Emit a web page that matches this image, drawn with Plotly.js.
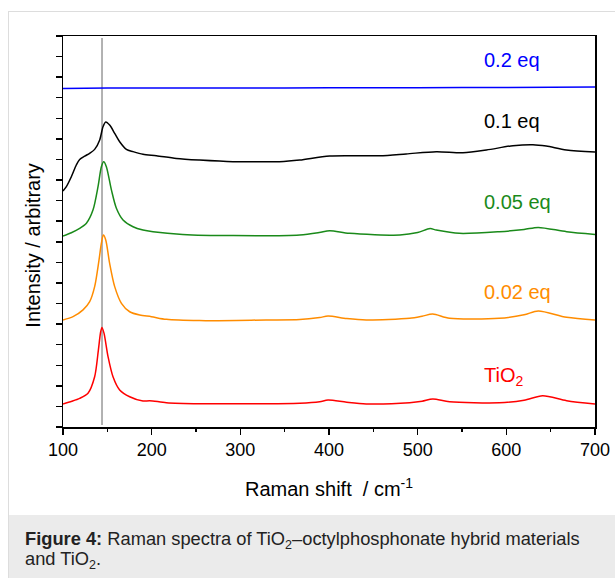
<!DOCTYPE html>
<html>
<head>
<meta charset="utf-8">
<script src="https://cdn.plot.ly/plotly-3.0.1.min.js"></script>
<style>
  html, body { margin: 0; padding: 0; background: #ffffff; width: 615px; height: 578px; overflow: hidden; }
  #frame { position: absolute; left: 8px; top: 11px; width: 700px; height: 700px; border: 1px solid #dddddd; background: #ffffff; }
  #capbox { position: absolute; left: 9px; top: 515px; width: 700px; height: 100px; background: #ebebeb; }
  #caption { position: absolute; left: 25px; top: 529px; width: 572px; font-family: Arial, "Liberation Sans", sans-serif; font-size: 18.3px; line-height: 20px; color: #222222; }
  #caption sub { font-size: 12.5px; line-height: 0; vertical-align: -4px; }
  #chart { position: absolute; left: 0; top: 0; width: 615px; height: 578px; }
</style>
</head>
<body>
<div id="frame"></div>
<div id="capbox"></div>
<div id="caption"><b>Figure 4:</b> Raman spectra of TiO<sub>2</sub>–octylphosphonate hybrid materials and TiO<sub>2</sub>.</div>
<div id="chart"></div>
<script>
// Raman shift (cm-1) and intensity (arbitrary, offset)
const tio2X = [100,110,118.8,128.2,135.7,139.9,142.5,144,146.3,150.8,156.4,163.9,175.2,190.2,197.8,216.6,254,300,367,389.5,398.9,420,442,491,505,517,536,592,620,641,668,700];
const tio2Y = [1.12,1.25,1.39,1.64,2.44,3.74,4.63,4.84,4.55,3.42,2.44,1.8,1.47,1.26,1.28,1.18,1.13,1.13,1.16,1.23,1.31,1.2,1.12,1.18,1.25,1.36,1.23,1.18,1.3,1.52,1.28,1.12];

const eq002X = [100,111.3,122.6,130.1,135.7,140.6,143.3,145.5,148.2,152.6,158.3,165.9,175.2,186.5,199.7,216.6,254,329,367,389.5,398.9,420,442,491,505,517,536,592,620,636,668,700];
const eq002Y = [5.2,5.36,5.69,6.09,6.82,8.11,8.93,9.33,9.09,7.95,6.82,6.01,5.6,5.44,5.36,5.23,5.17,5.2,5.22,5.32,5.39,5.27,5.2,5.28,5.38,5.49,5.28,5.28,5.45,5.64,5.33,5.2];

const eq005X = [100,109.4,118.8,126.4,133.8,139.5,143.3,145.9,148.9,154.6,160.2,167.7,179,190.2,201.5,235,292,367,389,400.8,423,480,500,514,521,547,592,620,636,668,700];
const eq005Y = [9.28,9.44,9.65,9.9,10.54,11.68,12.65,12.89,12.65,11.52,10.63,10.06,9.73,9.57,9.49,9.36,9.30,9.33,9.45,9.54,9.41,9.33,9.45,9.64,9.57,9.41,9.49,9.6,9.7,9.49,9.36];

const eq01X = [100,103.8,109.4,115,118.8,124.5,130,135.7,141.4,145.1,148.2,152.6,158.3,163.9,171.5,179,190.2,205.3,227.9,254,291.7,329,344,367,400.8,457,487,521,551,577.5,607.5,630,645,667.7,700];
const eq01Y = [11.47,11.68,12.16,12.73,13.0,13.16,13.3,13.49,13.95,14.59,14.82,14.67,14.27,13.86,13.49,13.38,13.25,13.18,13.05,12.97,12.89,12.89,12.89,12.97,13.17,13.18,13.27,13.38,13.33,13.46,13.67,13.72,13.65,13.46,13.36];

const eq02X = [100,150,200,300,400,500,600,700];
const eq02Y = [16.45,16.47,16.47,16.47,16.48,16.49,16.5,16.52];

const seriesNames = ["TiO<sub>2</sub>","0.02 eq","0.05 eq","0.1 eq","0.2 eq"];
const seriesColors = ["#ff0000","#ff8c00","#1a8a1a","#000000","#0000ff"];
const labelX = 573;
const labelY = [2.44, 6.56, 10.91, 14.88, 17.81];
const refShift = 144;

const xs = [tio2X, eq002X, eq005X, eq01X, eq02X];
const ys = [tio2Y, eq002Y, eq005Y, eq01Y, eq02Y];

const font = 'Arial, "Liberation Sans", sans-serif';

const traces = xs.map((x, i) => ({
  x: x, y: ys[i], type: 'scatter', mode: 'lines',
  line: {color: seriesColors[i], width: 1.5, shape: 'spline', smoothing: 0.8},
  name: seriesNames[i], hoverinfo: 'skip'
}));

const annotations = seriesNames.map((t, i) => ({
  x: labelX, y: labelY[i], xref: 'x', yref: 'y', text: t, showarrow: false,
  xanchor: 'left', yanchor: 'middle', font: {family: font, size: 20, color: seriesColors[i]}
}));
annotations.push({
  x: 0.5, y: -0.1535, xref: 'paper', yref: 'paper', text: 'Raman shift\u00a0 / cm<sup>-1</sup>',
  showarrow: false, xanchor: 'center', yanchor: 'middle', font: {family: font, size: 20, color: '#000'}
});
annotations.push({
  x: -0.057, y: 0.4655, xref: 'paper', yref: 'paper', text: 'Intensity / arbitrary', textangle: -90,
  showarrow: false, xanchor: 'center', yanchor: 'middle', font: {family: font, size: 20, color: '#000'}
});

const layout = {
  width: 615, height: 578,
  margin: {l: 63, r: 20, t: 36, b: 151},
  paper_bgcolor: 'rgba(0,0,0,0)', plot_bgcolor: '#ffffff',
  showlegend: false,
  font: {family: font, color: '#000'},
  xaxis: {
    range: [100, 700], dtick: 100, tick0: 100, ticks: 'outside', ticklen: 6, tickwidth: 1.5, tickcolor: '#000',
    minor: {dtick: 50, ticks: 'outside', ticklen: 3, tickwidth: 1.5, tickcolor: '#000'},
    showline: true, linewidth: 1.5, linecolor: '#000', mirror: true, showgrid: false, zeroline: false,
    tickfont: {family: font, size: 18, color: '#000'}
  },
  yaxis: {
    range: [0, 19], dtick: 1, tick0: 0, ticks: 'outside', ticklen: 6, tickwidth: 1.5, tickcolor: '#000',
    showticklabels: false, showline: true, linewidth: 1.5, linecolor: '#000', mirror: true,
    showgrid: false, zeroline: false
  },
  shapes: [{
    type: 'line', xref: 'x', yref: 'y', x0: refShift, x1: refShift, y0: 0.1, y1: 18.9,
    line: {color: '#999999', width: 1.5}, layer: 'below'
  }],
  annotations: annotations
};

Plotly.newPlot('chart', traces, layout, {staticPlot: true, displayModeBar: false});
</script>
</body>
</html>
